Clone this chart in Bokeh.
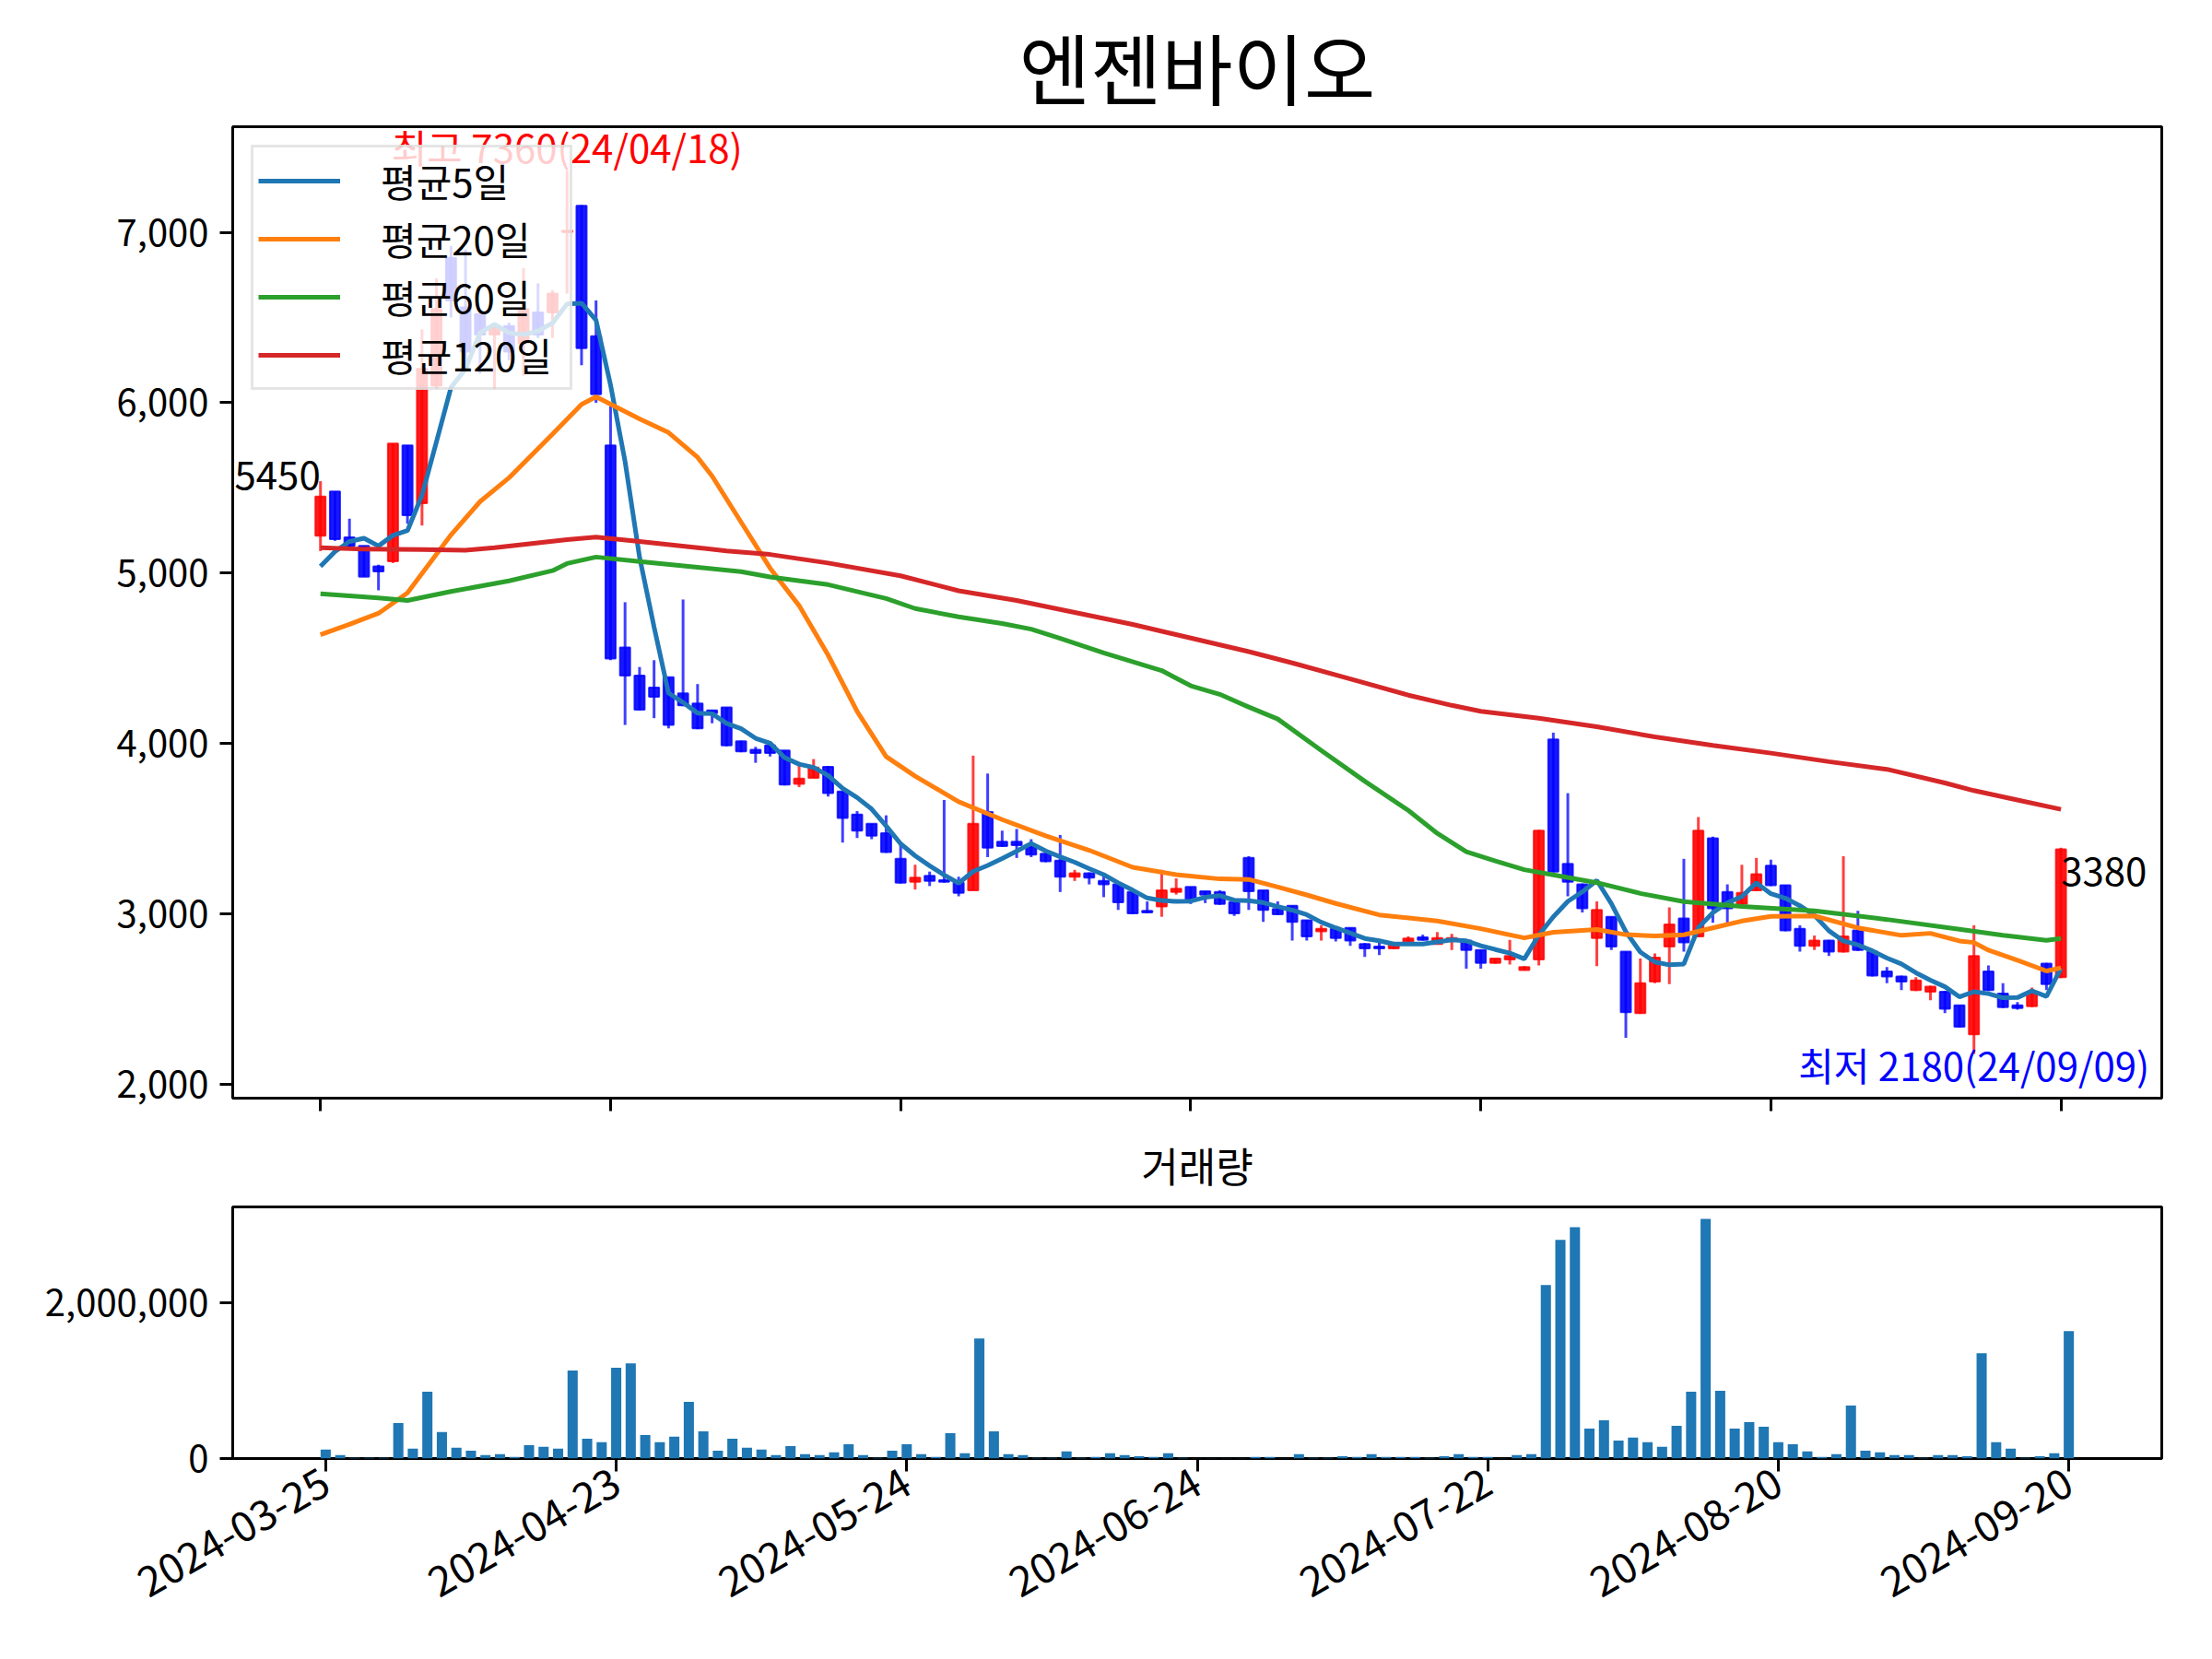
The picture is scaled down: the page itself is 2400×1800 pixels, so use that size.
import math
import numpy as np
from bokeh.plotting import figure
from bokeh.models import Range1d, FixedTicker, NumeralTickFormatter, ColumnDataSource, Legend, LegendItem
from bokeh.layouts import column
from bokeh.embed import file_html
from bokeh.resources import INLINE
from bokeh.core.properties import value

FONT = "Noto Sans CJK KR"

title_text = "엔젠바이오"
volume_title = "거래량"
legend_labels = ["평균5일", "평균20일", "평균60일", "평균120일"]
tick_idx = [0, 20, 40, 60, 80, 100, 120]
tick_dates = ["2024-03-25", "2024-04-23", "2024-05-24", "2024-06-24", "2024-07-22", "2024-08-20", "2024-09-20"]
high_label = "최고 7360(24/04/18)"
low_label = "최저 2180(24/09/09)"

# daily OHLC (index 0 .. 120)
open_ = [5220, 5480, 5210, 5160, 5040, 5070, 5750, 5410, 6100, 6850,
         6560, 6520, 6400, 6450, 6350, 6530, 6530, 7000, 7155, 6390,
         5750, 4565, 4400, 4330, 4390, 4295, 4236, 4196, 4213, 4014,
         3965, 3990, 3960, 3765, 3800, 3865, 3720, 3585, 3530, 3475,
         3325, 3190, 3225, 3200, 3185, 3140, 3600, 3425, 3425, 3395,
         3355, 3315, 3220, 3240, 3195, 3175, 3130, 3020, 3045, 3130,
         3160, 3135, 3130, 3070, 3330, 3140, 3030, 3050, 2965, 2900,
         2915, 2920, 2825, 2810, 2800, 2840, 2865, 2825, 2855, 2845,
         2790, 2715, 2735, 2672, 2735, 4025, 3295, 3175, 2860, 2985,
         2780, 2420, 2605, 2810, 2975, 2870, 3445, 3130, 3060, 3140,
         3285, 3170, 2915, 2815, 2845, 2780, 2905, 2780, 2665, 2635,
         2555, 2545, 2545, 2465, 2295, 2665, 2535, 2465, 2460, 2710,
         2630]
high = [5540, 5480, 5320, 5160, 5050, 5760, 5750, 6430, 6730, 6920,
        6900, 6545, 6460, 6470, 6790, 6700, 6660, 7360, 7160, 6600,
        5980, 4830, 4450, 4490, 4390, 4846, 4350, 4196, 4213, 4018,
        3982, 3995, 3960, 3870, 3910, 3870, 3720, 3605, 3530, 3580,
        3410, 3290, 3250, 3670, 3220, 3930, 3825, 3490, 3500, 3440,
        3360, 3465, 3260, 3245, 3230, 3180, 3135, 3075, 3260, 3210,
        3160, 3135, 3140, 3070, 3340, 3140, 3075, 3050, 2965, 2935,
        2915, 2920, 2830, 2850, 2825, 2870, 2880, 2895, 2885, 2850,
        2790, 2740, 2850, 2695, 3495, 4065, 3710, 3180, 3075, 2985,
        2780, 2740, 2770, 3040, 3325, 3570, 3455, 3175, 3290, 3330,
        3320, 3170, 2935, 2875, 2850, 3340, 3020, 2780, 2690, 2640,
        2630, 2580, 2550, 2465, 2935, 2700, 2595, 2485, 2570, 2715,
        3390]
low = [5130, 5190, 5140, 4980, 4900, 5060, 5290, 5280, 6080, 6500,
       6220, 6170, 6080, 6250, 6160, 6380, 6380, 6640, 6220, 6000,
       4490, 4110, 4195, 4150, 4090, 4220, 4085, 4120, 3985, 3950,
       3888, 3925, 3755, 3745, 3800, 3690, 3420, 3447, 3440, 3360,
       3180, 3145, 3165, 3185, 3105, 3140, 3335, 3395, 3330, 3335,
       3305, 3130, 3195, 3175, 3100, 3025, 3000, 3005, 2985, 3115,
       3060, 3065, 3055, 2990, 3025, 2955, 2995, 2845, 2845, 2845,
       2840, 2815, 2750, 2760, 2795, 2835, 2845, 2825, 2790, 2680,
       2680, 2710, 2705, 2670, 2700, 3245, 3105, 3010, 2695, 2790,
       2275, 2415, 2595, 2590, 2780, 2865, 2950, 2935, 3055, 3135,
       3165, 2900, 2780, 2790, 2755, 2775, 2785, 2635, 2595, 2555,
       2550, 2495, 2420, 2335, 2180, 2550, 2450, 2440, 2455, 2555,
       2625]
close = [5450, 5200, 5160, 4980, 5010, 5760, 5340, 6200, 6550, 6600,
         6300, 6400, 6450, 6300, 6550, 6400, 6640, 7010, 6320, 6050,
         4500, 4400, 4200, 4275, 4110, 4225, 4090, 4180, 3990, 3955,
         3945, 3945, 3760, 3795, 3860, 3710, 3565, 3490, 3460, 3365,
         3185, 3215, 3195, 3190, 3125, 3530, 3390, 3400, 3405, 3350,
         3310, 3220, 3240, 3215, 3175, 3070, 3005, 3010, 3140, 3150,
         3080, 3115, 3060, 3005, 3135, 3025, 3000, 2955, 2870, 2915,
         2860, 2845, 2800, 2800, 2820, 2858, 2850, 2860, 2860, 2790,
         2715, 2740, 2755, 2690, 3490, 3250, 3190, 3035, 3025, 2810,
         2425, 2595, 2745, 2940, 2835, 3490, 3035, 3035, 3125, 3235,
         3170, 2905, 2815, 2845, 2780, 2870, 2790, 2640, 2635, 2605,
         2612, 2575, 2445, 2340, 2755, 2555, 2455, 2450, 2540, 2590,
         3380]
# closes of the 4 sessions before the first shown day (for the 5-day mean)
prior_close = [4765, 4865, 4885, 5235]

volume = [114e3, 43e3, 8e3, 8e3, 8e3, 457e3, 126e3, 858e3, 339e3, 138e3,
          102e3, 43e3, 55e3, 20e3, 173e3, 150e3, 126e3, 1130e3, 256e3, 209e3,
          1165e3, 1224e3, 303e3, 209e3, 280e3, 728e3, 350e3, 102e3, 256e3, 138e3,
          114e3, 43e3, 161e3, 55e3, 43e3, 79e3, 185e3, 43e3, 8e3, 102e3,
          185e3, 55e3, 20e3, 327e3, 67e3, 1543e3, 350e3, 55e3, 43e3, 8e3,
          8e3, 91e3, 8e3, 20e3, 67e3, 43e3, 31e3, 20e3, 67e3, 8e3,
          2e3, 2e3, 2e3, 2e3, 20e3, 20e3, 3e3, 55e3, 8e3, 8e3,
          31e3, 20e3, 55e3, 20e3, 20e3, 20e3, 8e3, 31e3, 55e3, 20e3,
          20e3, 3e3, 43e3, 55e3, 2228e3, 2811e3, 2972e3, 386e3, 492e3, 232e3,
          268e3, 209e3, 150e3, 421e3, 858e3, 3079e3, 870e3, 386e3, 469e3, 409e3,
          209e3, 185e3, 91e3, 20e3, 55e3, 681e3, 102e3, 79e3, 43e3, 43e3,
          8e3, 43e3, 43e3, 31e3, 1354e3, 209e3, 126e3, 8e3, 31e3, 67e3,
          1638e3]

# moving averages (index, value)
ma20_idx = [0, 2, 4, 6, 9, 11, 13, 16, 18, 19, 22, 24, 26, 27, 29, 31, 33, 35, 37, 39,
            41, 44, 47, 50, 53, 56, 59, 62, 64, 66, 68, 70, 73, 77, 80, 83, 85, 88, 90, 92,
            94, 96, 98, 100, 103, 106, 109, 111, 113, 114, 115, 117, 119, 120]
ma20_val = [4640, 4700, 4765, 4885, 5225, 5420, 5560, 5816, 5990, 6035, 5905, 5825, 5680, 5570, 5300, 5030, 4810, 4520, 4190, 3925,
            3810, 3660, 3555, 3460, 3375, 3275, 3232, 3207, 3204, 3160, 3113, 3063, 2996, 2960, 2915, 2861, 2894, 2910, 2880, 2872,
            2879, 2920, 2960, 2987, 2990, 2920, 2876, 2888, 2843, 2834, 2789, 2730, 2667, 2685]
ma60_idx = [0, 4, 6, 9, 13, 16, 17, 19, 22, 26, 29, 31, 35, 39, 41, 44, 47, 49, 51, 54,
            58, 60, 62, 64, 66, 69, 72, 75, 77, 79, 81, 83, 85, 88, 91, 94, 98, 103, 108, 113,
            116, 119, 120]
ma60_val = [4880, 4855, 4840, 4893, 4955, 5015, 5057, 5095, 5069, 5035, 5009, 4978, 4933, 4852, 4793, 4744, 4705, 4672, 4618, 4533,
            4429, 4340, 4290, 4215, 4145, 3960, 3780, 3609, 3474, 3366, 3312, 3261, 3231, 3185, 3122, 3074, 3045, 3020, 2969, 2912,
            2876, 2847, 2858]
ma120_idx = [0, 3, 7, 10, 12, 17, 19, 22, 26, 28, 31, 35, 40, 44, 48, 52, 56, 60, 64, 67,
             71, 75, 78, 80, 84, 88, 92, 96, 100, 104, 108, 112, 114, 117, 120]
ma120_val = [5150, 5141, 5139, 5135, 5150, 5197, 5212, 5186, 5150, 5131, 5110, 5060, 4985, 4897, 4840, 4770, 4700, 4620, 4540, 4474,
             4380, 4285, 4225, 4190, 4150, 4100, 4040, 3990, 3945, 3895, 3850, 3770, 3725, 3670, 3615]

# ---------------------------------------------------------------- derived
n = len(close)
idx = list(range(n))
ext = np.array(prior_close + close, dtype=float)
ma5 = np.convolve(ext, np.ones(5) / 5.0, mode="valid")

up = [c >= o for o, c in zip(open_, close)]
col = ["#ff0000" if u else "#0000ff" for u in up]
src = ColumnDataSource(dict(
    x=idx, o=open_, h=high, l=low, c=close,
    top=[max(o, c) for o, c in zip(open_, close)],
    bot=[min(o, c) for o, c in zip(open_, close)],
    col=col,
))

hi_i = int(np.argmax(high))
lo_i = int(np.argmin(low))

W = 2384
H1 = 137 + 1054 + 22
H2 = 1784 - H1

def style(p, xfont="40px"):
    p.outline_line_color = "black"
    p.outline_line_width = 3
    p.outline_line_alpha = 1
    p.grid.visible = False
    for ax in (p.xaxis, p.yaxis):
        ax.axis_line_color = None
        ax.major_tick_line_width = 3
        ax.major_tick_out = 14
        ax.major_tick_in = 0
        ax.minor_tick_line_color = None
        ax.major_label_text_font = FONT
        ax.major_label_text_font_size = "40px"
        ax.major_label_text_color = "black"
        ax.major_label_standoff = 12
    p.xaxis.major_label_text_font_size = xfont
    p.background_fill_color = "white"
    p.border_fill_color = "white"

# ---------------------------------------------------------------- price
p1 = figure(width=W, height=H1, output_backend="svg", toolbar_location=None,
            x_range=Range1d(-6.05, 126.95), y_range=Range1d(1921, 7619),
            min_border_left=252, min_border_right=39, min_border_top=137, min_border_bottom=22)
style(p1, xfont="0px")
p1.title.text = title_text
p1.title.align = "center"
p1.title.text_font = FONT
p1.title.text_font_size = "84px"
p1.title.text_font_style = "normal"
p1.title.text_color = "black"
p1.title.standoff = 12
p1.yaxis.ticker = FixedTicker(ticks=[2000, 3000, 4000, 5000, 6000, 7000])
p1.yaxis.formatter = NumeralTickFormatter(format="0,0")
p1.xaxis.ticker = FixedTicker(ticks=tick_idx)
p1.xaxis.major_label_overrides = {i: "" for i in tick_idx}
p1.xaxis.major_label_standoff = 0

p1.segment(x0="x", y0="l", x1="x", y1="h", source=src, line_color="col", line_width=3, line_alpha=0.75)
p1.vbar(x="x", top="top", bottom="bot", width=0.7, source=src, fill_color="col", fill_alpha=0.9,
        line_color="col", line_alpha=0.8, line_width=2)

r5 = p1.line(idx, ma5, line_color="#1f77b4", line_width=5)
r20 = p1.line(ma20_idx, ma20_val, line_color="#ff7f0e", line_width=5)
r60 = p1.line(ma60_idx, ma60_val, line_color="#2ca02c", line_width=5)
r120 = p1.line(ma120_idx, ma120_val, line_color="#d62728", line_width=5)

p1.text(x=[hi_i], y=[high[hi_i]], text=[high_label], text_color="red", text_align="center",
        text_baseline="bottom", y_offset=4, text_font=value(FONT), text_font_size="42px")
p1.text(x=[lo_i], y=[low[lo_i]], text=[low_label], text_color="blue", text_align="center",
        text_baseline="top", y_offset=-20, text_font=value(FONT), text_font_size="42px")
p1.text(x=[0], y=[close[0]], text=[str(close[0])], text_color="black", text_align="right",
        text_baseline="bottom", y_offset=-8, text_font=value(FONT), text_font_size="42px")
p1.text(x=[n - 1], y=[close[-1]], text=[str(close[-1])], text_color="black", text_align="left",
        text_baseline="top", y_offset=8, text_font=value(FONT), text_font_size="42px")

legend = Legend(items=[LegendItem(label=lab, renderers=[r]) for lab, r in zip(legend_labels, [r5, r20, r60, r120])],
                location="top_left")
legend.margin = 20
legend.padding = 5
legend.spacing = 2
legend.label_height = 50
legend.glyph_height = 50
legend.glyph_width = 89
legend.label_width = 200
legend.label_standoff = 44
legend.label_text_font = FONT
legend.label_text_font_size = "42px"
legend.label_text_color = "black"
legend.border_line_color = "#cccccc"
legend.border_line_width = 3
legend.background_fill_alpha = 0.8
p1.add_layout(legend)

# ---------------------------------------------------------------- volume
vmax = max(volume)
p2 = figure(width=W, height=H2, output_backend="svg", toolbar_location=None,
            x_range=Range1d(-6.4, 126.4), y_range=Range1d(0, vmax * 1.05),
            min_border_left=252, min_border_right=39, min_border_top=1309 - H1,
            min_border_bottom=H2 - (1309 - H1) - 273)
style(p2, xfont="45px")
p2.title.text = volume_title
p2.title.align = "center"
p2.title.text_font = FONT
p2.title.text_font_size = "44px"
p2.title.text_font_style = "normal"
p2.title.text_color = "black"
p2.title.standoff = 28
p2.vbar(x=idx, top=volume, bottom=0, width=0.7, fill_color="#1f77b4", line_color=None)
p2.yaxis.ticker = FixedTicker(ticks=[0, 2000000])
p2.yaxis.formatter = NumeralTickFormatter(format="0,0")
p2.xaxis.ticker = FixedTicker(ticks=tick_idx)
p2.xaxis.major_label_overrides = {i: d for i, d in zip(tick_idx, tick_dates)}
p2.xaxis.major_label_orientation = math.pi / 6
p2.xaxis.major_label_standoff = 8

layout = column(p1, p2, spacing=0)
open("out.html", "w").write(file_html(layout, INLINE))
